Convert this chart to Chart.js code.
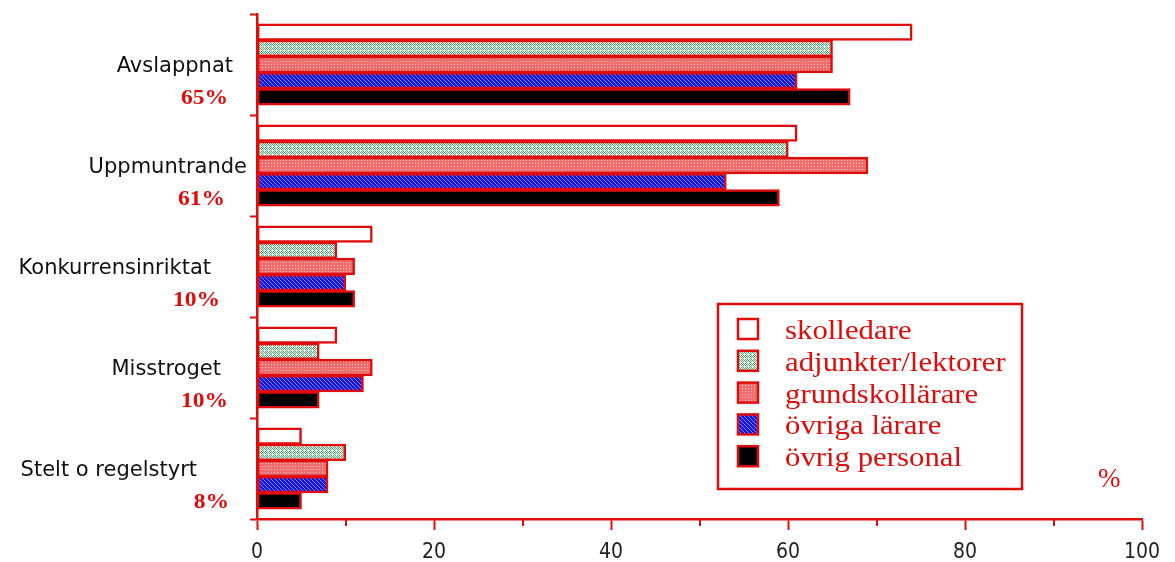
<!DOCTYPE html>
<html>
<head>
<meta charset="utf-8">
<script src="https://cdn.jsdelivr.net/npm/chart.js@4/dist/chart.umd.min.js"></script>
<style>
  html, body { margin: 0; padding: 0; background: #fff; }
  #wrap { width: 1175px; height: 562px; position: relative; }
</style>
</head>
<body>
<div id="wrap"><canvas id="c"></canvas></div>
<script>
// Survey: how the school climate is described, per staff group (%)
const categories = ['Avslappnat', 'Uppmuntrande', 'Konkurrensinriktat', 'Misstroget', 'Stelt o regelstyrt'];
const overallPct = [65, 61, 10, 10, 8];

const groups = ['skolledare', 'adjunkter/lektorer', 'grundskollärare', 'övriga lärare', 'övrig personal'];
const skolledare   = [74, 61, 13, 9, 5];
const adjunkter    = [65, 60, 9, 7, 10];
const grundskol    = [65, 69, 11, 13, 8];
const ovrigaLarare = [61, 53, 10, 12, 8];
const ovrigPers    = [67, 59, 11, 7, 5];

const xTicks = [0, 20, 40, 60, 80, 100];

const RED = '#e00b0b';
const SERIF = "'Liberation Serif', 'Times New Roman', serif";

// small bitmap fill patterns
function makePattern(size, base, dot, isDot) {
  const cv = document.createElement('canvas');
  cv.width = size; cv.height = size;
  const g = cv.getContext('2d');
  g.fillStyle = base;
  g.fillRect(0, 0, size, size);
  g.fillStyle = dot;
  for (let y = 0; y < size; y++) {
    for (let x = 0; x < size; x++) {
      if (isDot(x, y)) g.fillRect(x, y, 1, 1);
    }
  }
  return g.createPattern(cv, 'repeat');
}
const fills = [
  '#ffffff',
  makePattern(4, '#ffffff', '#4aa868', (x, y) => (x + y) % 2 === 0 && !(x === 0 && y === 2)),
  makePattern(3, '#ee6e6e', '#fbc0c0', (x, y) => x === 1 && y === 1),
  makePattern(4, '#1414e2', '#8a8aff', (x, y) => ((x - y + 8) % 4) === 0),
  '#000000'
];
const seriesValues = [skolledare, adjunkter, grundskol, ovrigaLarare, ovrigPers];

function stretchedText(ctx, text, x, y, sx, align) {
  ctx.save();
  ctx.translate(x, y);
  ctx.scale(sx, 1);
  ctx.textAlign = align;
  ctx.fillText(text, 0, 0);
  ctx.restore();
}

// category names and overall percentages left of the y axis
const nameGap = [24, 10, 46, 36, 60];
const pctGap = [29, 32, 37, 29, 28];
const sideLabels = {
  id: 'sideLabels',
  afterDraw(chart) {
    const ctx = chart.ctx;
    const ys = chart.scales.y;
    const left = chart.chartArea.left;
    ctx.save();
    categories.forEach((name, i) => {
      const y = ys.getPixelForValue(i);
      ctx.font = "21px 'DejaVu Sans', sans-serif";
      ctx.fillStyle = '#111';
      ctx.textBaseline = 'middle';
      ctx.textAlign = 'right';
      ctx.fillText(name, left - nameGap[i], y + 2);
      ctx.font = 'bold 21px ' + SERIF;
      ctx.fillStyle = RED;
      ctx.textBaseline = 'middle';
      stretchedText(ctx, overallPct[i] + '%', left - pctGap[i], y + 34, 1.12, 'right');
    });
    ctx.restore();
  }
};

// minor ticks on the value axis
const minorTicks = {
  id: 'minorTicks',
  afterDraw(chart) {
    const xs = chart.scales.x;
    const ctx = chart.ctx;
    const y0 = chart.chartArea.bottom;
    ctx.save();
    ctx.strokeStyle = RED;
    ctx.lineWidth = 2;
    for (let v = 10; v < 100; v += 20) {
      const x = Math.round(xs.getPixelForValue(v));
      ctx.beginPath();
      ctx.moveTo(x, y0);
      ctx.lineTo(x, y0 + 7);
      ctx.stroke();
    }
    // unit marker
    ctx.font = '27px ' + SERIF;
    ctx.fillStyle = RED;
    ctx.textAlign = 'center';
    ctx.textBaseline = 'middle';
    ctx.fillText('%', xs.getPixelForValue(96.3), y0 - 39);
    ctx.restore();
  }
};

// boxed legend inside the plot area
const boxLegend = {
  id: 'boxLegend',
  afterDraw(chart) {
    const ctx = chart.ctx;
    const a = chart.chartArea;
    const bx = a.left + 461, by = a.top + 290, bw = 304, bh = 185;
    ctx.save();
    ctx.fillStyle = '#fff';
    ctx.fillRect(bx, by, bw, bh);
    ctx.strokeStyle = RED;
    ctx.lineWidth = 2.5;
    ctx.strokeRect(bx, by, bw, bh);
    chart.data.datasets.forEach((ds, i) => {
      const sy = by + 15 + i * 31.8;
      ctx.fillStyle = ds.backgroundColor;
      ctx.fillRect(bx + 20, sy, 20, 20);
      ctx.strokeStyle = RED;
      ctx.lineWidth = 2.5;
      ctx.strokeRect(bx + 20, sy, 20, 20);
      ctx.font = '28px ' + SERIF;
      ctx.fillStyle = RED;
      ctx.textBaseline = 'alphabetic';
      stretchedText(ctx, ds.label, bx + 67, sy + 20, 1.1, 'left');
    });
    ctx.restore();
  }
};

new Chart(document.getElementById('c'), {
  type: 'bar',
  data: {
    labels: categories,
    datasets: groups.map((g, i) => ({
      label: g,
      data: seriesValues[i],
      backgroundColor: fills[i],
      borderColor: RED,
      borderWidth: 2.5,
      borderSkipped: false,
      inflateAmount: 0.6,
      categoryPercentage: 0.8,
      barPercentage: 1.0
    }))
  },
  options: {
    indexAxis: 'y',
    responsive: true,
    maintainAspectRatio: false,
    animation: false,
    layout: { padding: { top: 14, right: 33, left: 0, bottom: 0 } },
    plugins: {
      legend: { display: false },
      tooltip: { enabled: false }
    },
    scales: {
      x: {
        min: 0, max: 100,
        afterFit(s) { s.height = 43; },
        afterBuildTicks(s) { s.ticks = xTicks.map(v => ({ value: v })); },
        grid: { drawOnChartArea: false, tickLength: 11, tickColor: RED, tickWidth: 2 },
        border: { color: RED, width: 2.5 },
        ticks: {
          color: '#222',
          padding: 10,
          font: { family: "'Liberation Sans Narrow', 'DejaVu Sans Condensed', sans-serif", size: 21 }
        }
      },
      y: {
        afterFit(s) { s.width = 257; },
        grid: { drawOnChartArea: false, offset: true, tickLength: 7, tickColor: RED, tickWidth: 2 },
        border: { color: RED, width: 2.5 },
        ticks: { display: false }
      }
    }
  },
  plugins: [sideLabels, minorTicks, boxLegend]
});
</script>
</body>
</html>
